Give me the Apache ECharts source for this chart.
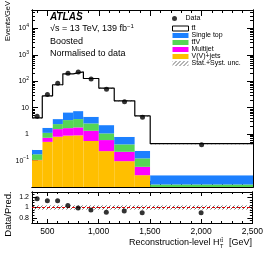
<!DOCTYPE html>
<html><head><meta charset="utf-8">
<script src="https://cdn.jsdelivr.net/npm/echarts@6/dist/echarts.min.js"></script>
<style>html,body{margin:0;padding:0;background:#fff}#c{width:266px;height:258px}</style>
</head><body><div id="c"></div>
<script>
// ---- data ----
const binEdges = [350, 450, 550, 650, 750, 850, 1000, 1150, 1350, 1500, 2500];
const dataVals = [4.8, 32, 84, 200, 224, 122, 50, 17, 4.4, 0.40];
const ttbarVals = [3.85, 26.3, 70.3, 185, 219, 123.5, 52.8, 17.5, 4.67, 0.41];
const singleTopVals = [0.08, 0.62, 1.32, 3.27, 3.74, 1.99, 1.13, 0.38, 0.113, 0.0157];
const ttVVals = [0.067, 0.39, 0.85, 1.71, 1.92, 1.21, 0.47, 0.195, 0.063, 0.0053];
const multijetVals = [0.002, 0.22, 0.75, 0.81, 0.90, 0.79, 0.37, 0.12, 0.030, 0.003];
const vjetsVals = [0.104, 0.51, 0.80, 0.88, 0.90, 0.55, 0.228, 0.095, 0.028, 0.004];
const ratioVals = [1.17, 1.13, 1.13, 1.04, 0.99, 0.95, 0.91, 0.93, 0.90, 0.90];
const relUnc = [0.04, 0.04, 0.04, 0.04, 0.04, 0.04, 0.04, 0.04, 0.04, 0.04];
const xMajorTicks = [500, 1000, 1500, 2000, 2500];
const xMinorTicks = [400, 600, 700, 800, 900, 1100, 1200, 1300, 1400, 1600, 1700, 1800, 1900, 2100, 2200, 2300, 2400];
const yMainMajor = [0.1, 1, 10, 100, 1000, 10000];
const yRatioMajor = [0.8, 1, 1.2];
const yRatioMinor = [0.75, 0.85, 0.9, 0.95, 1.05, 1.1, 1.15, 1.25];

const X_MIN = 350, X_MAX = 2500, Y_MIN = 0.01, Y_MAX = 50000, R_MIN = 0.7, R_MAX = 1.3;
const FONT = '"Liberation Sans", Arial, sans-serif';

// minor log ticks 2..9 x 10^k
const yMainMinor = [];
for (let e = -2; e <= 4; e++) for (let m = 2; m <= 9; m++) { const v = m * Math.pow(10, e); if (v > Y_MIN && v < Y_MAX) yMainMinor.push(+v.toPrecision(3)); }

// hatch pattern
function hatch() {
  const c = document.createElement('canvas'); c.width = 4; c.height = 4;
  const g = c.getContext('2d'); g.strokeStyle = '#444'; g.lineWidth = 0.8;
  g.beginPath(); g.moveTo(0, 4); g.lineTo(4, 0); g.moveTo(-1, 1); g.lineTo(1, -1); g.moveTo(3, 5); g.lineTo(5, 3); g.stroke();
  return { image: c, repeat: 'repeat' };
}
const HATCH = hatch();

const nb = dataVals.length;
const centers = [];
for (let i = 0; i < nb; i++) centers.push((binEdges[i] + binEdges[i + 1]) / 2);

// stacking
const layers = [
  { name: 'V(V)+jets', vals: vjetsVals, color: '#FFBF00' },
  { name: 'Multijet', vals: multijetVals, color: '#FF00FF' },
  { name: 'tt\u0304V', vals: ttVVals, color: '#55D655' },
  { name: 'Single top', vals: singleTopVals, color: '#1C80FF' },
  { name: 'tt\u0304', vals: ttbarVals, color: '#FFFFFF' }
];
const cum = new Array(nb).fill(0);
const layerData = layers.map(l => {
  const d = [];
  for (let i = 0; i < nb; i++) { const lo = cum[i]; cum[i] += l.vals[i]; d.push([binEdges[i], binEdges[i + 1], lo, cum[i]]); }
  return d;
});
const totals = cum.slice();

function rectItem(params, api) {
  const x0 = api.value(0), x1 = api.value(1);
  const lo = Math.max(api.value(2), Y_MIN * 0.5), hi = api.value(3);
  const p0 = api.coord([x0, hi]), p1 = api.coord([x1, lo]);
  return { type: 'rect', shape: { x: p0[0], y: p0[1], width: p1[0] - p0[0], height: p1[1] - p0[1] }, style: { fill: api.visual('color') } };
}

const series = [];
layers.forEach((l, k) => {
  series.push({ type: 'custom', name: l.name, xAxisIndex: 0, yAxisIndex: 0, clip: true, renderItem: rectItem,
    itemStyle: { color: l.color }, encode: { x: [0, 1], y: [2, 3] }, data: layerData[k], z: 2 });
});
// uncertainty band on total (main)
series.push({ type: 'custom', name: 'Stat.+Syst. unc.', xAxisIndex: 0, yAxisIndex: 0, clip: true,
  renderItem: function (params, api) {
    const x0 = api.value(0), x1 = api.value(1), lo = api.value(2), hi = api.value(3);
    const p0 = api.coord([x0, hi]), p1 = api.coord([x1, lo]);
    return { type: 'rect', shape: { x: p0[0], y: p0[1], width: p1[0] - p0[0], height: Math.max(p1[1] - p0[1], 1) }, style: { fill: HATCH } };
  },
  itemStyle: { color: HATCH }, encode: { x: [0, 1], y: [2, 3] },
  data: totals.map((t, i) => [binEdges[i], binEdges[i + 1], t * (1 - relUnc[i]), t * (1 + relUnc[i])]), z: 3 });
// total outline (step)
const stepData = [];
for (let i = 0; i < nb; i++) stepData.push([binEdges[i], totals[i]]);
stepData.push([binEdges[nb], totals[nb - 1]]);
series.push({ type: 'line', name: 'outline', step: 'end', xAxisIndex: 0, yAxisIndex: 0, data: stepData, symbol: 'none',
  lineStyle: { color: '#000', width: 1.2 }, z: 4, silent: true });
// data points main
series.push({ type: 'scatter', name: 'Data', xAxisIndex: 0, yAxisIndex: 0, data: centers.map((c, i) => [c, dataVals[i]]),
  symbol: 'circle', symbolSize: 5, itemStyle: { color: '#000' }, z: 5 });
// ratio band
series.push({ type: 'custom', name: 'ratioBand', xAxisIndex: 4, yAxisIndex: 4, clip: true,
  renderItem: function (params, api) {
    const x0 = api.value(0), x1 = api.value(1), lo = api.value(2), hi = api.value(3);
    const p0 = api.coord([x0, hi]), p1 = api.coord([x1, lo]);
    return { type: 'rect', shape: { x: p0[0], y: p0[1], width: p1[0] - p0[0], height: p1[1] - p0[1] }, style: { fill: HATCH } };
  },
  encode: { x: [0, 1], y: [2, 3] }, data: relUnc.map((u, i) => [binEdges[i], binEdges[i + 1], 1 - u, 1 + u]), z: 2 });
series.push({ type: 'line', name: 'one', xAxisIndex: 4, yAxisIndex: 4, data: [[X_MIN, 1], [X_MAX, 1]], symbol: 'none',
  lineStyle: { color: '#E00000', width: 1, type: [3, 2] }, z: 3, silent: true });
series.push({ type: 'scatter', name: 'ratio', xAxisIndex: 4, yAxisIndex: 4, data: centers.map((c, i) => [c, ratioVals[i]]),
  symbol: 'circle', symbolSize: 5, itemStyle: { color: '#000' }, z: 5 });

function xAx(grid, pos, ticks, len, labels) {
  return { type: 'value', gridIndex: grid, position: pos, min: X_MIN, max: X_MAX, splitNumber: 5,
    axisLine: { show: true, lineStyle: { color: '#000', width: 1 } },
    axisTick: { show: true, inside: true, length: len, customValues: ticks, lineStyle: { color: '#000', width: 1 } },
    axisLabel: labels ? { show: true, customValues: xMajorTicks, color: '#000', fontSize: 8.5, fontFamily: FONT, margin: 4 } : { show: false },
    splitLine: { show: false } };
}
function yLog(pos, ticks, len, labels) {
  return { type: 'log', logBase: 10, gridIndex: 0, position: pos, min: Y_MIN, max: Y_MAX,
    axisLine: { show: true, lineStyle: { color: '#000', width: 1 } },
    axisTick: { show: true, inside: true, length: len, customValues: ticks, lineStyle: { color: '#000', width: 1 } },
    axisLabel: labels ? { show: true, customValues: yMainMajor, color: '#000', fontSize: 7, fontFamily: FONT, margin: 3,
      formatter: function (v) { const e = Math.round(Math.log10(v)); if (e === 0) return '1'; if (e === 1) return '10'; return '10{s|' + (e < 0 ? '\u2212' : '') + Math.abs(e) + '}'; },
      rich: { s: { fontSize: 5, fontFamily: FONT, color: '#000', padding: [0, 0, 5, 0] } } } : { show: false },
    splitLine: { show: false } };
}
function yRat(pos, ticks, len, labels) {
  return { type: 'value', gridIndex: 1, position: pos, min: R_MIN, max: R_MAX,
    axisLine: { show: true, lineStyle: { color: '#000', width: 1 } },
    axisTick: { show: true, inside: true, length: len, customValues: ticks, lineStyle: { color: '#000', width: 1 } },
    axisLabel: labels ? { show: true, customValues: yRatioMajor, color: '#000', fontSize: 7, fontFamily: FONT, margin: 3,
      formatter: v => (Math.abs(v - 1) < 1e-9 ? '1' : v.toFixed(1)) } : { show: false },
    splitLine: { show: false } };
}

// x title pieces
const meas = document.createElement('canvas').getContext('2d');
meas.font = '9px "Liberation Sans"';
const wGeV = meas.measureText(' [GeV]').width;
const X_RIGHT = 252, X_TITLE_Y = 243;
const wScript = 7;

const option = {
  animation: false,
  backgroundColor: '#fff',
  grid: [
    { left: 32, right: 13, top: 10, height: 177 },
    { left: 32, right: 13, top: 192, height: 31 }
  ],
  xAxis: [
    xAx(0, 'bottom', xMajorTicks, 6, false), xAx(0, 'top', xMajorTicks, 6, false),
    xAx(0, 'bottom', xMinorTicks, 3, false), xAx(0, 'top', xMinorTicks, 3, false),
    xAx(1, 'bottom', xMajorTicks, 4, true), xAx(1, 'top', xMajorTicks, 4, false),
    xAx(1, 'bottom', xMinorTicks, 2, false), xAx(1, 'top', xMinorTicks, 2, false)
  ],
  yAxis: [
    yLog('left', yMainMajor, 6, true), yLog('right', yMainMajor, 6, false),
    yLog('left', yMainMinor, 3, false), yLog('right', yMainMinor, 3, false),
    yRat('left', yRatioMajor, 5, true), yRat('right', yRatioMajor, 5, false),
    yRat('left', yRatioMinor, 2.5, false), yRat('right', yRatioMinor, 2.5, false)
  ],
  legend: [
    { orient: 'vertical', left: 167, top: 10, itemWidth: 16, itemHeight: 5, itemGap: 0,
      textStyle: { fontSize: 7, fontFamily: FONT, color: '#000', lineHeight: 7, padding: [0, 0, 0, -2] },
      data: [{ name: 'Data', icon: 'circle', itemStyle: { color: '#000' } }], selectedMode: false },
    { orient: 'vertical', left: 167, top: 20, itemWidth: 16, itemHeight: 5, itemGap: 0,
      textStyle: { fontSize: 7, fontFamily: FONT, color: '#000', lineHeight: 6.4, padding: [0, 0, 0, -2] },
      data: [
        { name: 'tt\u0304', icon: 'rect', itemStyle: { color: '#fff', borderColor: '#000', borderWidth: 1 } },
        { name: 'Single top', icon: 'rect', itemStyle: { color: '#1C80FF' } },
        { name: 'tt\u0304V', icon: 'rect', itemStyle: { color: '#55D655' } },
        { name: 'Multijet', icon: 'rect', itemStyle: { color: '#FF00FF' } },
        { name: 'V(V)+jets', icon: 'rect', itemStyle: { color: '#FFBF00' } },
        { name: 'Stat.+Syst. unc.', icon: 'rect', itemStyle: { color: HATCH } }
      ], selectedMode: false }
  ],
  graphic: [
    { type: 'text', left: 50, top: 12, style: { text: 'ATLAS', font: 'italic bold 10px ' + FONT, fill: '#000' } },
    { type: 'text', left: 50, top: 23, style: { text: '\u221As = 13 TeV, 139 fb{s|\u22121}', font: '9px ' + FONT, fill: '#000',
      rich: { s: { fontSize: 6, fontFamily: FONT, padding: [0, 0, 5, 0] } } } },
    { type: 'text', left: 50, top: 37, style: { text: 'Boosted', font: '9px ' + FONT, fill: '#000' } },
    { type: 'text', left: 50, top: 49, style: { text: 'Normalised to data', font: '9px ' + FONT, fill: '#000' } },
    { type: 'text', x: 8, y: 21, rotation: Math.PI / 2, style: { text: 'Events/GeV', font: '7.5px ' + FONT, fill: '#000', align: 'center', verticalAlign: 'middle' } },
    { type: 'text', x: 8, y: 214, rotation: Math.PI / 2, style: { text: 'Data/Pred.', font: '9.5px ' + FONT, fill: '#000', align: 'center', verticalAlign: 'middle' } },
    { type: 'text', x: X_RIGHT, y: X_TITLE_Y, style: { text: ' [GeV]', font: '9px ' + FONT, fill: '#000', align: 'right', verticalAlign: 'middle' } },
    { type: 'text', x: X_RIGHT - wGeV - wScript, y: X_TITLE_Y, style: { text: 'Reconstruction-level H', font: '9px ' + FONT, fill: '#000', align: 'right', verticalAlign: 'middle' } },
    { type: 'text', x: X_RIGHT - wGeV - wScript + 0.5, y: X_TITLE_Y - 3, style: { text: 'tt\u0304', font: '5.5px ' + FONT, fill: '#000', align: 'left', verticalAlign: 'middle' } },
    { type: 'text', x: X_RIGHT - wGeV - wScript + 0.5, y: X_TITLE_Y + 3, style: { text: 'T', font: '5.5px ' + FONT, fill: '#000', align: 'left', verticalAlign: 'middle' } }
  ],
  series: series
};
const chart = echarts.init(document.getElementById('c'), null, { renderer: 'canvas' });
chart.setOption(option);
</script>
</body></html>
